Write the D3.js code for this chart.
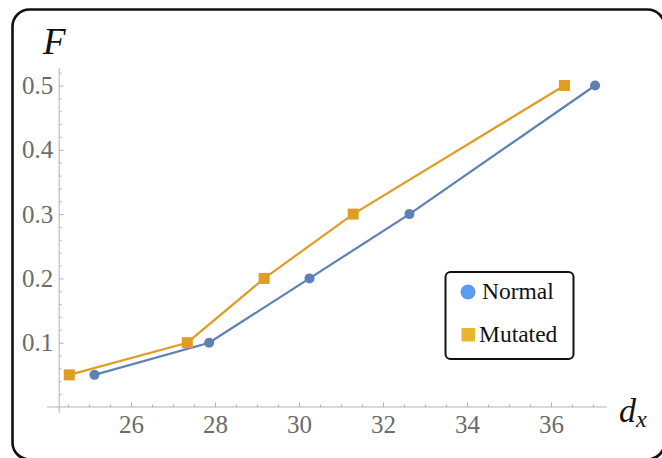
<!DOCTYPE html>
<html>
<head>
<meta charset="utf-8">
<script src="https://cdn.jsdelivr.net/npm/d3@7/dist/d3.min.js"></script>
<style>
  html, body { margin: 0; padding: 0; background: #fff; }
  svg { display: block; }
  text { font-family: "Liberation Serif", "DejaVu Serif", serif; }
</style>
</head>
<body>
<svg id="chart" width="662" height="458"></svg>
<script>
// Series data: separation d_x against F
const normalX = [25.13, 27.86, 30.25, 32.63, 37.05];
const normalF = [0.05, 0.1, 0.2, 0.3, 0.5];
const mutatedX = [24.53, 27.34, 29.17, 31.29, 36.32];
const mutatedF = [0.05, 0.1, 0.2, 0.3, 0.5];

const xMajorTicks = [26, 28, 30, 32, 34, 36];
const yMajorTicks = [0.1, 0.2, 0.3, 0.4, 0.5];
const seriesNames = ["Normal", "Mutated"];

const svg = d3.select("#chart");

// Scales
const x = d3.scaleLinear().domain([26, 36]).range([131, 551]);
const y = d3.scaleLinear().domain([0.1, 0.5]).range([342.7, 85.5]);

const xMin = 24.0, xMax = 37.33;
const yMin = -0.009, yMax = 0.527;
const xOrigin = 24.29, yOrigin = 0;

const axisColor = "#b3b3b3";
const tickLabelColor = "#6b6b6b";

// Outer rounded frame
svg.append("rect")
  .attr("x", 12.5).attr("y", 9.5)
  .attr("width", 652).attr("height", 450)
  .attr("rx", 17).attr("ry", 17)
  .attr("fill", "none").attr("stroke", "#111").attr("stroke-width", 2.6);

// Axis lines
svg.append("line")
  .attr("x1", x(xMin)).attr("x2", x(xMax))
  .attr("y1", y(yOrigin)).attr("y2", y(yOrigin))
  .attr("stroke", axisColor).attr("stroke-width", 1);
svg.append("line")
  .attr("x1", x(xOrigin)).attr("x2", x(xOrigin))
  .attr("y1", y(yMin)).attr("y2", y(yMax))
  .attr("stroke", axisColor).attr("stroke-width", 1);

// Minor tick values
const xMinor = d3.range(24.5, 37.01, 0.5).filter(v => Math.abs(v / 2 - Math.round(v / 2)) > 1e-6);
const yMinor = d3.range(0.02, 0.521, 0.02).filter(v => Math.abs(v * 10 - Math.round(v * 10)) > 1e-6);

// X axis (ticks pointing up into the plot)
const gx = svg.append("g").attr("transform", `translate(0,${y(yOrigin)})`);
gx.call(d3.axisBottom(x).tickValues(xMinor).tickSize(-2.5).tickFormat(""));
gx.append("g").call(d3.axisBottom(x).tickValues(xMajorTicks).tickSize(-4.5).tickFormat(d3.format("d")).tickPadding(8));
gx.selectAll(".domain").remove();
gx.selectAll("line").attr("stroke", axisColor);
gx.selectAll("g").attr("font-size", null).attr("font-family", null);
gx.selectAll("text")
  .attr("fill", tickLabelColor)
  .attr("font-family", "Liberation Serif")
  .attr("font-size", 25);

// Y axis (ticks pointing right into the plot)
const gy = svg.append("g").attr("transform", `translate(${x(xOrigin)},0)`);
gy.call(d3.axisLeft(y).tickValues(yMinor).tickSize(-2.5).tickFormat(""));
gy.append("g").call(d3.axisLeft(y).tickValues(yMajorTicks).tickSize(-4.5).tickFormat(d3.format(".1f")).tickPadding(6));
gy.selectAll(".domain").remove();
gy.selectAll("line").attr("stroke", axisColor);
gy.selectAll("text")
  .attr("fill", tickLabelColor)
  .attr("font-family", "Liberation Serif")
  .attr("font-size", 25);

// Axis titles
svg.append("text")
  .attr("x", 43).attr("y", 54)
  .style("font-family", "'Liberation Serif', serif")
  .style("font-style", "italic")
  .style("font-size", "37px")
  .attr("fill", "#111")
  .text("F");

const dx = svg.append("text")
  .attr("x", 619).attr("y", 422)
  .style("font-family", "'Liberation Serif', serif")
  .style("font-style", "italic")
  .style("font-size", "34px")
  .attr("fill", "#111");
dx.append("tspan").text("d");
dx.append("tspan").attr("dy", 5).style("font-size", "24px").text("x");

// Series lines and markers
const normal = normalX.map((v, i) => ({ x: v, y: normalF[i] }));
const mutated = mutatedX.map((v, i) => ({ x: v, y: mutatedF[i] }));
const line = d3.line().x(d => x(d.x)).y(d => y(d.y));

const blue = "#5e81b5";
const orange = "#e19c24";

svg.append("path").datum(mutated)
  .attr("d", line).attr("fill", "none")
  .attr("stroke", orange).attr("stroke-width", 2.2);
svg.append("path").datum(normal)
  .attr("d", line).attr("fill", "none")
  .attr("stroke", blue).attr("stroke-width", 2.2);

const sq = 11;
svg.selectAll(".mut").data(mutated).enter().append("rect")
  .attr("x", d => x(d.x) - sq / 2).attr("y", d => y(d.y) - sq / 2)
  .attr("width", sq).attr("height", sq)
  .attr("fill", orange);
svg.selectAll(".nor").data(normal).enter().append("circle")
  .attr("cx", d => x(d.x)).attr("cy", d => y(d.y)).attr("r", 5)
  .attr("fill", blue);

// Legend
const lg = svg.append("g");
lg.append("rect")
  .attr("x", 445.5).attr("y", 272).attr("width", 128).attr("height", 87)
  .attr("rx", 5).attr("ry", 5)
  .attr("fill", "#fff").attr("stroke", "#111").attr("stroke-width", 2);
lg.append("circle").attr("cx", 468).attr("cy", 292).attr("r", 7.5).attr("fill", "#5b9cf2");
lg.append("rect").attr("x", 461.5).attr("y", 328).attr("width", 13.5).attr("height", 13.5).attr("fill", "#e8b52f");
lg.append("text").attr("x", 482).attr("y", 299)
  .style("font-size", "23.5px").attr("fill", "#111").text(seriesNames[0]);
lg.append("text").attr("x", 479).attr("y", 342)
  .style("font-size", "23.5px").attr("fill", "#111").text(seriesNames[1]);
</script>
</body>
</html>
